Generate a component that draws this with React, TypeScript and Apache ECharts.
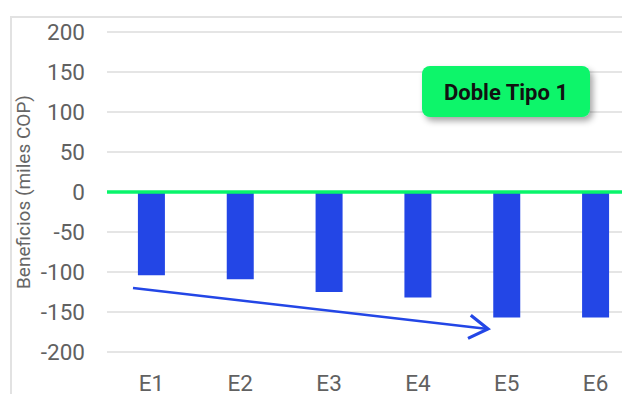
import React, { useEffect, useRef } from "react";
import * as echarts from "echarts";

const categories = ["E1", "E2", "E3", "E4", "E5", "E6"];
const beneficios = [-104, -109, -125, -132, -157, -157];
const yMin = -200;
const yMax = 200;
const yInterval = 50;
const zeroLineValue = [0];
const yAxisTitle = "Beneficios (miles COP)";
const badgeText = "Doble Tipo 1";

const BLUE = "#2346E6";
const GREEN = "#08F56B";
const FONT = "Roboto, 'Noto Sans', sans-serif";

export default function App() {
  const ref = useRef<HTMLDivElement>(null);

  useEffect(() => {
    if (!ref.current) return;
    const chart = echarts.init(ref.current, null, { renderer: "svg" });

    // arrow geometry (annotation)
    const ax0 = 133, ay0 = 288, ax1 = 488, ay1 = 329;

    chart.setOption({
      animation: false,
      backgroundColor: "#ffffff",
      textStyle: { fontFamily: FONT },
      grid: { left: 107, top: 32, width: 533, height: 320, containLabel: false },
      xAxis: {
        type: "category",
        data: categories,
        axisLine: { show: false, onZero: false },
        axisTick: { show: false },
        axisLabel: { fontSize: 22.5, color: "#616161", margin: 19, fontFamily: FONT },
        splitLine: { show: false },
      },
      yAxis: {
        type: "value",
        min: yMin,
        max: yMax,
        interval: yInterval,
        name: yAxisTitle,
        nameLocation: "middle",
        nameGap: 74,
        nameMoveOverlap: false,
        nameTextStyle: { fontSize: 19, color: "#666666", fontFamily: FONT },
        axisLine: { show: false },
        axisTick: { show: false },
        axisLabel: { fontSize: 22.5, color: "#616161", margin: 22, fontFamily: FONT },
        splitLine: { show: true, lineStyle: { color: "#dddddd", width: 1.5 } },
      },
      series: [
        {
          type: "bar",
          data: beneficios,
          barWidth: 27,
          itemStyle: { color: BLUE },
          markLine: {
            silent: true,
            symbol: ["none", "none"],
            label: { show: false },
            lineStyle: { color: GREEN, width: 3.5, type: "solid" },
            data: zeroLineValue.map((v) => ({ yAxis: v })),
          },
        },
      ],
      graphic: [
        {
          type: "rect",
          shape: { x: 11, y: 17, width: 800, height: 500 },
          style: { fill: "none", stroke: "#e2e2e2", lineWidth: 2 },
          z: 0,
        },
        {
          type: "line",
          shape: { x1: ax0, y1: ay0, x2: ax1, y2: ay1 },
          style: { stroke: BLUE, lineWidth: 2.5 },
          z: 10,
        },
        {
          type: "polyline",
          shape: { points: [[470.8, 315.3], [ax1, ay1], [468, 338.4]] },
          style: { stroke: BLUE, lineWidth: 3.2, fill: "none", lineJoin: "miter" },
          z: 10,
        },
        {
          type: "rect",
          shape: { x: 422, y: 66, width: 168, height: 51, r: 8 },
          style: {
            fill: GREEN,
            shadowBlur: 6,
            shadowOffsetX: 3,
            shadowOffsetY: 4,
            shadowColor: "rgba(0,0,0,0.35)",
          },
          z: 20,
        },
        {
          type: "text",
          x: 506,
          y: 92,
          style: {
            text: badgeText,
            fontSize: 22,
            fontWeight: "bold",
            fontFamily: FONT,
            fill: "#111111",
            align: "center",
            verticalAlign: "middle",
          },
          z: 21,
        },
      ],
    });

    return () => chart.dispose();
  }, []);

  return (
    <div
      style={{
        position: "fixed",
        left: 0,
        top: 0,
        width: 622,
        height: 394,
        overflow: "hidden",
        background: "#fff",
      }}
    >
      <div ref={ref} style={{ width: 660, height: 394 }} />
    </div>
  );
}
